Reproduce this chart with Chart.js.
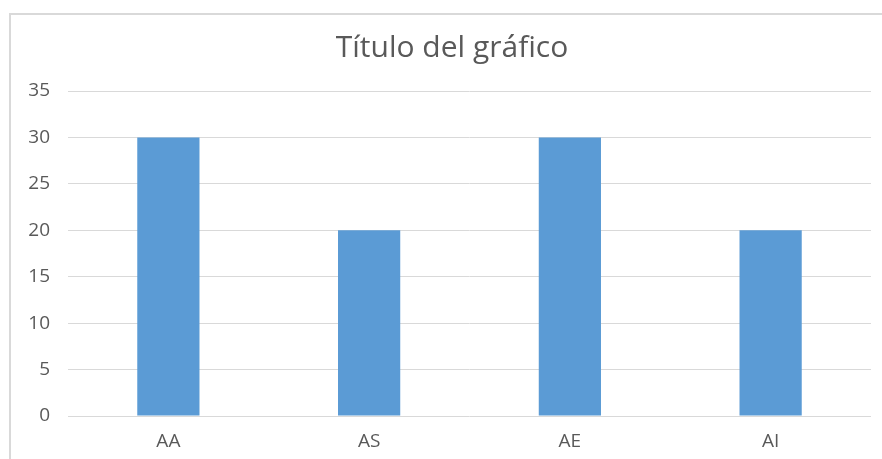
<!DOCTYPE html>
<html>
<head>
<meta charset="utf-8">
<script src="https://cdn.jsdelivr.net/npm/chart.js@4"></script>
<style>
  body { margin: 0; background: #fff; overflow: hidden; }
  #wrap { position: relative; width: 882px; height: 459px; }
  #frame {
    position: absolute; left: 9px; top: 13px; width: 900px; height: 500px;
    border: 2px solid #d9d9d9; box-sizing: border-box;
  }
  #chart { position: absolute; left: 0; top: 0; }
</style>
</head>
<body>
<div id="wrap">
  <div id="frame"></div>
  <canvas id="chart" width="882" height="459"></canvas>
</div>
<script>
// chart data
const categories = ['AA', 'AS', 'AE', 'AI'];
const values = [30, 20, 30, 20];
const yTicks = [0, 5, 10, 15, 20, 25, 30, 35];
const chartTitle = 'Título del gráfico';

// title is centred on the whole frame, not on the canvas, so draw it here
const frameTitle = {
    id: 'frameTitle',
    afterDraw(chart) {
        const c = chart.ctx;
        c.save();
        c.fillStyle = '#595959';
        c.font = '30px "Open Sans", sans-serif';
        c.textAlign = 'center';
        c.textBaseline = 'middle';
        c.fillText(chartTitle, 452, 48);
        c.restore();
    }
};

const ctx = document.getElementById('chart').getContext('2d');

new Chart(ctx, {
    type: 'bar',
    data: {
        labels: categories,
        datasets: [{
            data: values,
            backgroundColor: '#5b9bd5',
            borderWidth: 0,
            barPercentage: 0.31,
            categoryPercentage: 1
        }]
    },
    plugins: [frameTitle],
    options: {
        responsive: false,
        animation: false,
        layout: { padding: { left: 0, right: 11, top: 91, bottom: 0 } },
        plugins: {
            legend: { display: false },
            tooltip: { enabled: false },
            title: { display: false }
        },
        scales: {
            x: {
                grid: { display: false, drawTicks: false },
                border: { display: false },
                ticks: {
                    color: '#595959',
                    font: { family: '"Open Sans", sans-serif', size: 19 },
                    padding: 14
                },
                afterFit: function (scale) { scale.height = 43; }
            },
            y: {
                min: 0,
                max: yTicks[yTicks.length - 1],
                afterBuildTicks: function (scale) {
                    scale.ticks = yTicks.map(v => ({ value: v }));
                },
                grid: { color: '#d9d9d9', lineWidth: 1, drawTicks: false },
                border: { display: false },
                ticks: {
                    color: '#595959',
                    font: { family: '"Open Sans", sans-serif', size: 19 },
                    padding: 18
                },
                afterFit: function (scale) { scale.width = 68; }
            }
        }
    }
});
</script>
</body>
</html>
